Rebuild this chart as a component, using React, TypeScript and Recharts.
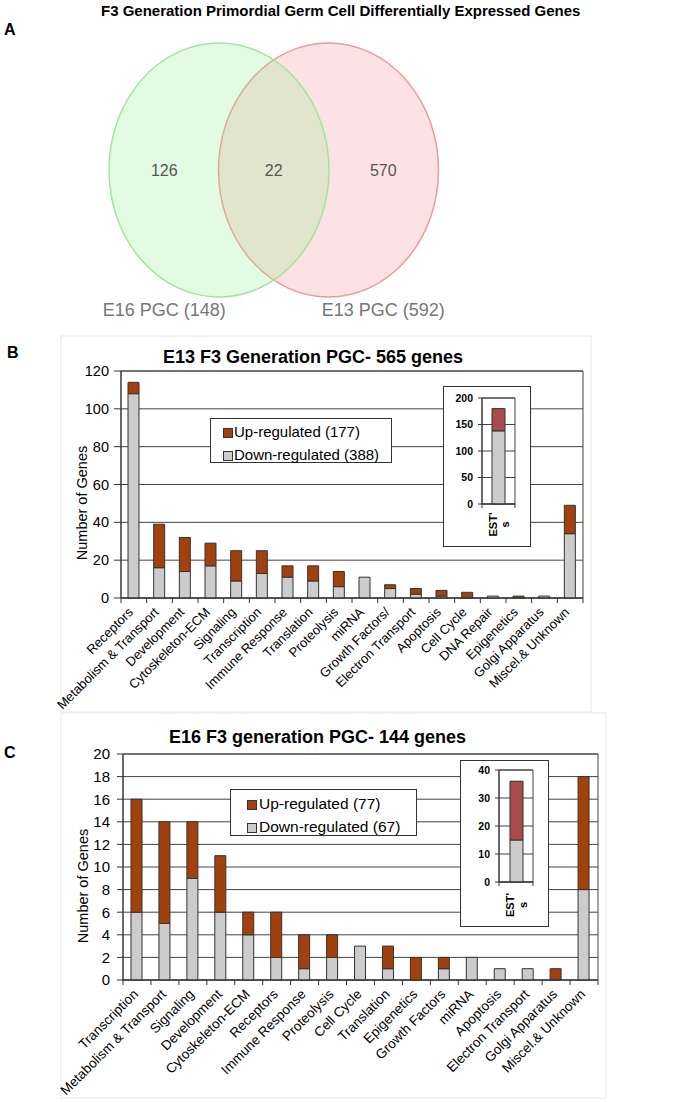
import React from "react"
import {
  BarChart,
  Bar,
  XAxis,
  YAxis,
  CartesianGrid,
  ReferenceArea,
  Legend,
  Label,
  ScatterChart,
  Scatter
} from "recharts"

const FONT = '"Liberation Sans", Arial, sans-serif'
const NARROW = '"Liberation Sans Narrow", "Arial Narrow", "Liberation Sans", sans-serif'
const UP = "#a3410e"
const DOWN = "#cccccc"
const EST_UP = "#a84b4b"
const EDGE = "#333333"
const GRID = "#444444"

// panel A: venn
const vennSetLabels = ["E16 PGC (148)", "E13 PGC (592)"]
const vennRegionCounts = [126, 22, 570]

// panel B: E13
const e13Categories = [
  "Receptors", "Metabolism & Transport", "Development", "Cytoskeleton-ECM",
  "Signaling", "Transcription", "Immune Response", "Translation", "Proteolysis",
  "miRNA", "Growth Factors/", "Electron Transport", "Apoptosis", "Cell Cycle",
  "DNA Repair", "Epigenetics", "Golgi Apparatus", "Miscel.& Unknown"
]
const e13Down = [108, 16, 14, 17, 9, 13, 11, 9, 6, 11, 5, 2, 1, 0, 1, 0, 1, 34]
const e13Up = [6, 23, 18, 12, 16, 12, 6, 8, 8, 0, 2, 3, 3, 3, 0, 1, 0, 15]
const e13Ticks = [0, 20, 40, 60, 80, 100, 120]
const e13Legend = ["Up-regulated (177)", "Down-regulated (388)"]
const e13EstDown = [138]
const e13EstUp = [42]
const e13EstTicks = [0, 50, 100, 150, 200]

// panel C: E16
const e16Categories = [
  "Transcription", "Metabolism & Transport", "Signaling", "Development",
  "Cytoskeleton-ECM", "Receptors", "Immune Response", "Proteolysis", "Cell Cycle",
  "Translation", "Epigenetics", "Growth Factors", "miRNA", "Apoptosis",
  "Electron Transport", "Golgi Apparatus", "Miscel.& Unknown"
]
const e16Down = [6, 5, 9, 6, 4, 2, 1, 2, 3, 1, 0, 1, 2, 1, 1, 0, 8]
const e16Up = [10, 9, 5, 5, 2, 4, 3, 2, 0, 2, 2, 1, 0, 0, 0, 1, 10]
const e16Ticks = [0, 2, 4, 6, 8, 10, 12, 14, 16, 18, 20]
const e16Legend = ["Up-regulated (77)", "Down-regulated (67)"]
const e16EstDown = [15]
const e16EstUp = [21]
const e16EstTicks = [0, 10, 20, 30, 40]

const estCategory = ["EST's"]

const rows = (cats: string[], down: number[], up: number[]) =>
  cats.map((name, i) => ({ name, down: down[i], up: up[i] }))

const e13Rows = rows(e13Categories, e13Down, e13Up)
const e16Rows = rows(e16Categories, e16Down, e16Up)
const e13EstRows = rows(estCategory, e13EstDown, e13EstUp)
const e16EstRows = rows(estCategory, e16EstDown, e16EstUp)

// red set drawn first, green laid over it
const vennCircles = [
  { pos: 1.5, row: 1, fill: "#f4a0a0", op: 0.3, stroke: "#ef9a9a" },
  { pos: 0.5, row: 1, fill: "#90ee90", op: 0.25, stroke: "#a3e59e" }
]
const vennCounts = vennRegionCounts.map((v, i) => ({ pos: i, row: 1, v }))
const vennLabels = vennSetLabels.map((v, i) => ({ pos: i * 2, row: 0, v }))

function CategoryTick(props: any) {
  const { x, y, payload, index, band, count, fontSize, dx, dy } = props
  const lx = x + dx
  const ly = y + dy
  return (
    <g>
      <line x1={x - band / 2} x2={x - band / 2} y1={y} y2={y + 5} stroke={EDGE} />
      {index === count - 1 && (
        <line x1={x + band / 2} x2={x + band / 2} y1={y} y2={y + 5} stroke={EDGE} />
      )}
      <text x={lx} y={ly} transform={`rotate(-45 ${lx} ${ly})`} textAnchor="end"
        fontSize={fontSize} fontFamily={FONT} fill="#000">
        {payload.value}
      </text>
    </g>
  )
}

function EstTick(props: any) {
  const { x, y, payload, band, d1, d2, dy } = props
  const s = String(payload.value)
  const a = s.slice(0, -1)
  const b = s.slice(-1)
  return (
    <g>
      <line x1={x - band / 2} x2={x - band / 2} y1={y} y2={y + 4} stroke={EDGE} />
      <line x1={x + band / 2} x2={x + band / 2} y1={y} y2={y + 4} stroke={EDGE} />
      <text x={x + d1} y={y + dy} transform={`rotate(-90 ${x + d1} ${y + dy})`} textAnchor="middle"
        fontSize={11} fontWeight="bold" fontFamily={FONT} fill="#000">{a}</text>
      <text x={x + d2} y={y + dy} transform={`rotate(-90 ${x + d2} ${y + dy})`} textAnchor="middle"
        fontSize={11} fontWeight="bold" fontFamily={FONT} fill="#000">{b}</text>
    </g>
  )
}

function LegendBox({ labels, w, h, swatchX, textX, rowY, fontSize }: any) {
  const colors = [UP, DOWN]
  return (
    <div style={{ position: "relative", width: w, height: h, border: `1px solid ${EDGE}`,
      background: "#fff", boxSizing: "border-box", fontFamily: FONT, fontSize }}>
      {labels.map((l: string, i: number) => (
        <div key={l} style={{ position: "absolute", left: 0, top: rowY[i] - 10, height: 20, width: w }}>
          <span style={{ position: "absolute", left: swatchX, top: 6, width: 8, height: 8,
            background: colors[i], border: `1px solid ${EDGE}` }} />
          <span style={{ position: "absolute", left: textX, top: 0, lineHeight: "20px", whiteSpace: "nowrap" }}>{l}</span>
        </div>
      ))}
    </div>
  )
}

function Inset({ data, ticks, max, left, top, w, h, plotTop, plotBottom, plotRight, d1, d2, dy }: any) {
  const band = w - 2 - 38 - plotRight
  return (
    <div style={{ position: "absolute", left, top, width: w, height: h, border: `1px solid ${EDGE}`,
      background: "#fff", boxSizing: "border-box" }}>
      <BarChart width={w - 2} height={h - 2} data={data} barSize={13}
        margin={{ top: plotTop, right: plotRight, bottom: 2, left: 8 }}>
        <CartesianGrid vertical={false} stroke={GRID} />
        <ReferenceArea y1={0} y2={max} fill="none" stroke={GRID} ifOverflow="visible" />
        <XAxis dataKey="name" height={h - 2 - plotBottom - 2} tickSize={0} tickMargin={0} tickLine={false}
          axisLine={{ stroke: EDGE }} interval={0}
          tick={(p: any) => <EstTick {...p} band={band} d1={d1} d2={d2} dy={dy} />} />
        <YAxis domain={[0, max]} ticks={ticks} width={30} tickSize={4} tickMargin={5} interval={0}
          axisLine={{ stroke: EDGE }} tickLine={{ stroke: EDGE }}
          tick={{ fontSize: 10.5, fontWeight: "bold", fontFamily: FONT, fill: "#000" }} />
        <Bar dataKey="down" stackId="e" fill={DOWN} stroke={EDGE} isAnimationActive={false} />
        <Bar dataKey="up" stackId="e" fill={EST_UP} stroke={EDGE} isAnimationActive={false} />
      </BarChart>
    </div>
  )
}

function App() {
  return (
    <div style={{ position: "absolute", left: 0, top: 0, width: 683, height: 1102, background: "#fff",
      fontFamily: FONT }}>
      <svg width={683} height={1102} style={{ position: "absolute", left: 0, top: 0 }}>
        <rect x={61} y={336} width={530} height={376} fill="none" stroke="#e8e8e8" />
        <rect x={61} y={713} width={545} height={385} fill="none" stroke="#e8e8e8" />
        <text x={4} y={35} fontSize={16} fontWeight="bold" fontFamily={FONT}>A</text>
        <text x={101} y={16} fontSize={15} fontWeight="bold" fontFamily={FONT}>
          F3 Generation Primordial Germ Cell Differentially Expressed Genes
        </text>
        <text x={7} y={358} fontSize={16} fontWeight="bold" fontFamily={FONT}>B</text>
        <text x={163} y={363} fontSize={18} fontWeight="bold" fontFamily={FONT}>
          E13 F3 Generation PGC- 565 genes
        </text>
        <text x={4} y={758} fontSize={16} fontWeight="bold" fontFamily={FONT}>C</text>
        <text x={169} y={743} fontSize={18} fontWeight="bold" fontFamily={FONT}>
          E16 F3 generation PGC- 144 genes
        </text>
      </svg>

      <div style={{ position: "absolute", left: 0, top: 0 }}>
        <ScatterChart width={683} height={330} margin={{ top: 30, right: 135.5, bottom: 20, left: 0 }}>
          <XAxis type="number" dataKey="pos" domain={[-1.5, 3.5]} hide />
          <YAxis type="number" dataKey="row" domain={[0, 2]} hide />
          <Scatter data={vennCircles} isAnimationActive={false}
            shape={(p: any) => (
              <ellipse cx={p.cx} cy={p.cy} rx={110} ry={127} fill={p.payload.fill}
                fillOpacity={p.payload.op} stroke={p.payload.stroke} strokeWidth={1.5} />
            )} />
          <Scatter data={vennCounts} isAnimationActive={false}
            shape={(p: any) => (
              <text x={p.cx} y={p.cy + 6} textAnchor="middle" fontSize={16} fontFamily={NARROW} fill="#555">
                {p.payload.v}
              </text>
            )} />
          <Scatter data={vennLabels} isAnimationActive={false}
            shape={(p: any) => (
              <text x={p.cx} y={p.cy + 6} textAnchor="middle" fontSize={18} fontFamily={NARROW} fill="#777">
                {p.payload.v}
              </text>
            )} />
        </ScatterChart>
      </div>

      <div style={{ position: "absolute", left: 0, top: 340 }}>
        <BarChart width={683} height={375} data={e13Rows} barSize={11}
          margin={{ top: 31, right: 100, bottom: 17, left: 81 }}>
          <CartesianGrid vertical={false} stroke={GRID} />
          <ReferenceArea y1={0} y2={120} fill="none" stroke={GRID} ifOverflow="visible" />
          <XAxis dataKey="name" interval={0} height={100} tickSize={0} tickMargin={0} tickLine={false}
            axisLine={{ stroke: EDGE }}
            tick={(p: any) => (
              <CategoryTick {...p} band={462 / e13Categories.length} count={e13Categories.length}
                fontSize={13} dx={0} dy={15} />
            )} />
          <YAxis domain={[0, 120]} ticks={e13Ticks} interval={0} width={40} tickSize={7} tickMargin={5}
            axisLine={{ stroke: EDGE }} tickLine={{ stroke: EDGE }}
            tick={{ fontSize: 14.5, fontFamily: FONT, fill: "#000" }}>
            <Label content={() => (
              <text x={87} y={163} transform="rotate(-90 87 163)" textAnchor="middle"
                fontSize={14.5} fontFamily={FONT} fill="#000">Number of Genes</text>
            )} />
          </YAxis>
          <Bar dataKey="down" stackId="g" fill={DOWN} stroke={EDGE} isAnimationActive={false} />
          <Bar dataKey="up" stackId="g" fill={UP} stroke={EDGE} isAnimationActive={false} />
          <Legend layout="vertical" align="center" verticalAlign="middle"
            wrapperStyle={{ left: 210, top: 78, width: 182, height: 45 }}
            content={() => (
              <LegendBox labels={e13Legend} w={182} h={45} swatchX={12} textX={23} rowY={[13, 36]} fontSize={15} />
            )} />
        </BarChart>
      </div>

      <div style={{ position: "absolute", left: 0, top: 714 }}>
        <BarChart width={683} height={388} data={e16Rows} barSize={11}
          margin={{ top: 40, right: 85, bottom: 7, left: 83 }}>
          <CartesianGrid vertical={false} stroke={GRID} />
          <ReferenceArea y1={0} y2={20} fill="none" stroke={GRID} ifOverflow="visible" />
          <XAxis dataKey="name" interval={0} height={115} tickSize={0} tickMargin={0} tickLine={false}
            axisLine={{ stroke: EDGE }}
            tick={(p: any) => (
              <CategoryTick {...p} band={475 / e16Categories.length} count={e16Categories.length}
                fontSize={13.5} dx={2} dy={15} />
            )} />
          <YAxis domain={[0, 20]} ticks={e16Ticks} interval={0} width={40} tickSize={6} tickMargin={7}
            axisLine={{ stroke: EDGE }} tickLine={{ stroke: EDGE }}
            tick={{ fontSize: 15, fontFamily: FONT, fill: "#000" }}>
            <Label content={() => (
              <text x={88} y={172} transform="rotate(-90 88 172)" textAnchor="middle"
                fontSize={14.5} fontFamily={FONT} fill="#000">Number of Genes</text>
            )} />
          </YAxis>
          <Bar dataKey="down" stackId="g" fill={DOWN} stroke={EDGE} isAnimationActive={false} />
          <Bar dataKey="up" stackId="g" fill={UP} stroke={EDGE} isAnimationActive={false} />
          <Legend layout="vertical" align="center" verticalAlign="middle"
            wrapperStyle={{ left: 230, top: 75, width: 187, height: 47 }}
            content={() => (
              <LegendBox labels={e16Legend} w={187} h={47} swatchX={16} textX={28} rowY={[14, 37]} fontSize={15.5} />
            )} />
        </BarChart>
      </div>

      <Inset data={e13EstRows} ticks={e13EstTicks} max={200} left={443} top={386} w={88} h={161}
        plotTop={11} plotBottom={117} plotRight={15} d1={-1.5} d2={10.5} dy={20.5} />
      <Inset data={e16EstRows} ticks={e16EstTicks} max={40} left={460} top={760} w={89} h={167}
        plotTop={9} plotBottom={121} plotRight={15} d1={-2} d2={11} dy={23} />
    </div>
  )
}

export default App
